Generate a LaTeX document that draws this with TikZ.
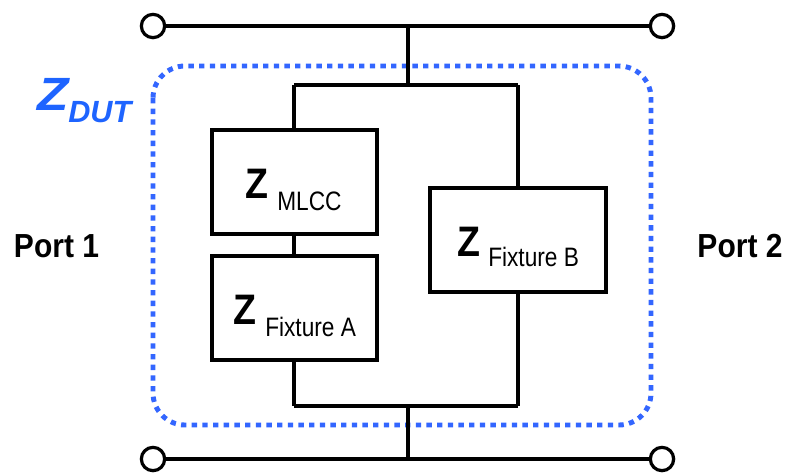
\documentclass[tikz,border=0pt]{standalone}
\usepackage{fontspec}
\setmainfont{Liberation Sans}
\definecolor{dutblue}{RGB}{51,102,255}
\definecolor{zblue}{RGB}{30,100,255}
\tikzset{x=0.75pt,y=-0.75pt,
 wire/.style={draw=black,line width=2.4pt},
 term/.style={circle,draw=black,line width=2.4pt,fill=white,minimum size=17.5pt,inner sep=0pt,outer sep=0pt},
 zbox/.style={draw=black,line width=2.5pt,fill=white,anchor=north west,inner sep=0pt,outer sep=0pt},
 zlab/.style={inner sep=0pt,anchor=base west,font=\bfseries\fontsize{32}{35}\selectfont\addfontfeatures{FakeStretch=0.88}},
 zsub/.style={inner sep=0pt,anchor=base west,font=\fontsize{20}{23}\selectfont\addfontfeatures{FakeStretch=0.85}},
 portlab/.style={inner sep=0pt,anchor=base,font=\bfseries\fontsize{25}{28}\selectfont\addfontfeatures{FakeStretch=0.9}},
 dutlab/.style={inner sep=0pt,anchor=base west,text=zblue}}
\begin{document}
\begin{tikzpicture}
\useasboundingbox (0,0) rectangle (785,472);
\fill[white] (0,0) rectangle (785,472);
\coordinate (tb) at (408,85);
\coordinate (bb) at (408,406);
\coordinate (tl) at (294,85);
\coordinate (tr) at (518,85);
\coordinate (bl) at (294,406);
\coordinate (br) at (518,406);
\draw[draw=dutblue,line width=3.7pt,dash pattern=on 4pt off 4pt,rounded corners=24pt] (153,66) rectangle (651,425);
\coordinate (tm) at (408,26);
\coordinate (bm) at (408,459);
\node[term] (p1t) at (153,26) {};
\node[term] (p2t) at (662,26) {};
\node[term] (p1b) at (153,459) {};
\node[term] (p2b) at (662,459) {};
\draw[wire] (p1t) -- (p2t);
\draw[wire] (p1b) -- (p2b);
\draw[wire] (tm) -- (tb);
\draw[wire] (bb) -- (bm);
\draw[wire] (tl) -- (tr);
\draw[wire] (bl) -- (br);
\node[zbox,minimum width=123.75pt,minimum height=78pt] (mlcc) at (212,130) {};
\node[zbox,minimum width=123.75pt,minimum height=78pt] (fa) at (212,256) {};
\node[zbox,minimum width=132pt,minimum height=78pt] (fb) at (430,188) {};
\draw[wire] (tl) -- (mlcc.north -| tl);
\draw[wire] (mlcc.south -| tl) -- (fa.north -| tl);
\draw[wire] (fa.south -| bl) -- (bl);
\draw[wire] (tr) -- (fb.north -| tr);
\draw[wire] (fb.south -| br) -- (br);
\node[zlab] (z1) at (245,198) {Z};
\node[zsub] (s1) at (277,210) {MLCC};
\node[zlab] (z2) at (233,324) {Z};
\node[zsub] (s2) at (265,336) {Fixture A};
\node[zlab] (z3) at (457,256) {Z};
\node[zsub] (s3) at (488,266) {Fixture B};
\node[portlab] (port1) at (56.5,257) {Port 1};
\node[portlab] (port2) at (740,257) {Port 2};
\node[dutlab,font=\bfseries\itshape\fontsize{35}{38}\selectfont\addfontfeatures{FakeStretch=1.1}] (zd) at (37,110) {Z};
\node[dutlab,font=\bfseries\itshape\fontsize{23}{26}\selectfont] (zds) at (68,122) {DUT};
\end{tikzpicture}
\end{document}
